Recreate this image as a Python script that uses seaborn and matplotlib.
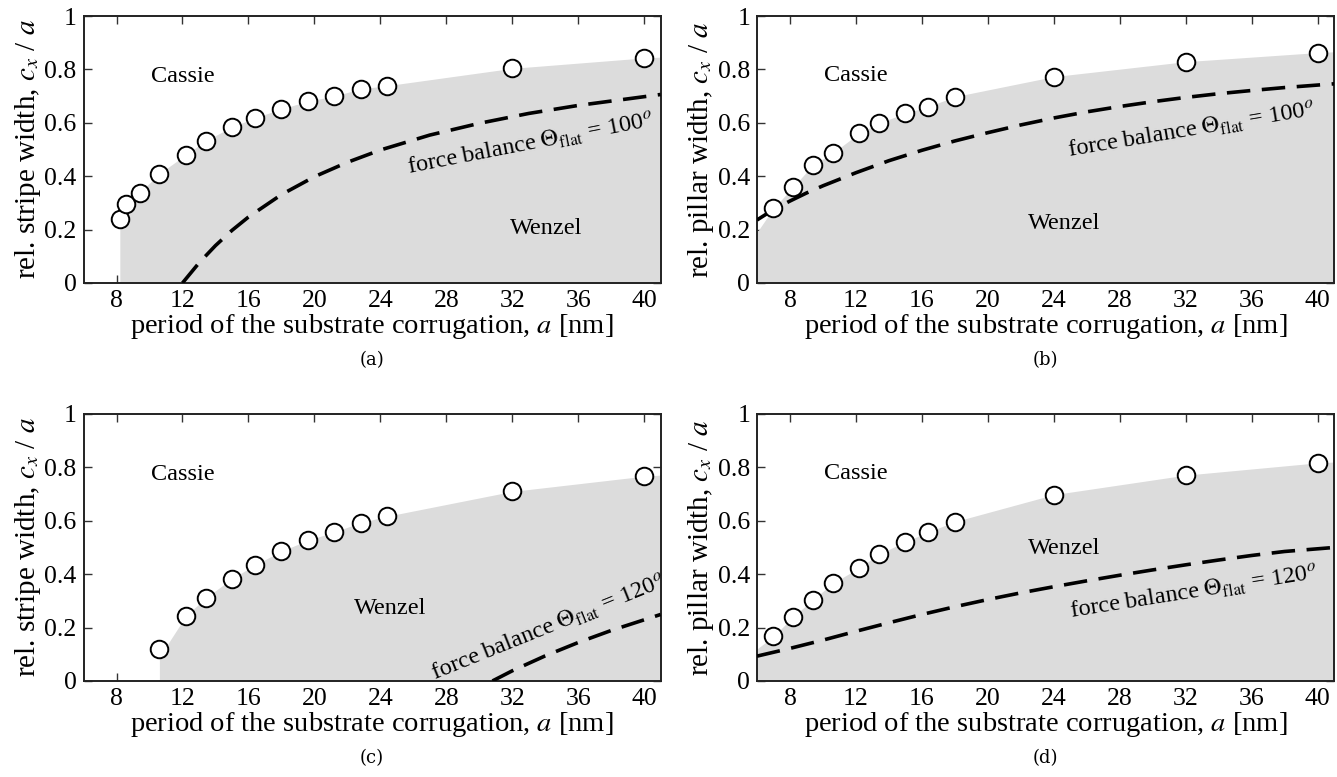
import numpy as np
import pandas as pd
import matplotlib
matplotlib.use('Agg')
import matplotlib.pyplot as plt
import seaborn as sns

# ---------------- datos ----------------
# (a) franjas, Theta_flat = 100
a_x = [8.2, 8.6, 9.4, 10.6, 12.2, 13.4, 15.0, 16.4, 18.0, 19.6, 21.2, 22.8, 24.4, 32.0, 40.0]
a_y = [0.238, 0.297, 0.338, 0.41, 0.48, 0.533, 0.584, 0.619, 0.652, 0.681, 0.70, 0.727, 0.739, 0.804, 0.843]
a_fb_x = [12, 13, 14, 15, 16, 18, 20, 22, 24, 27, 30, 33, 36, 41]
a_fb_y = [0.0, 0.075, 0.14, 0.197, 0.247, 0.331, 0.398, 0.452, 0.498, 0.554, 0.598, 0.635, 0.665, 0.706]

# (b) pilares, Theta_flat = 100
b_x = [7.0, 8.2, 9.4, 10.6, 12.2, 13.4, 15.0, 16.4, 18.0, 24.0, 32.0, 40.0]
b_y = [0.28, 0.36, 0.443, 0.487, 0.561, 0.599, 0.636, 0.661, 0.698, 0.773, 0.829, 0.863]
b_fb_x = [6, 7, 8, 9, 10, 12, 14, 16, 18, 20, 22, 24, 26, 28, 30, 32, 34, 36, 38, 41]
b_fb_y = [0.236, 0.275, 0.307, 0.337, 0.364, 0.413, 0.458, 0.497, 0.532, 0.563, 0.592, 0.618, 0.641, 0.661,
          0.679, 0.695, 0.709, 0.721, 0.732, 0.746]

# (c) franjas, Theta_flat = 120
c_x = [10.6, 12.2, 13.4, 15.0, 16.4, 18.0, 19.6, 21.2, 22.8, 24.4, 32.0, 40.0]
c_y = [0.118, 0.243, 0.311, 0.383, 0.435, 0.486, 0.527, 0.558, 0.593, 0.617, 0.71, 0.767]
c_fb_x = [30.8, 32, 34, 36, 38, 41]
c_fb_y = [0.0, 0.038, 0.094, 0.144, 0.189, 0.249]

# (d) pilares, Theta_flat = 120
d_x = [7.0, 8.2, 9.4, 10.6, 12.2, 13.4, 15.0, 16.4, 18.0, 24.0, 32.0, 40.0]
d_y = [0.167, 0.241, 0.305, 0.366, 0.424, 0.475, 0.522, 0.558, 0.597, 0.698, 0.771, 0.817]
d_fb_x = [6, 8, 10, 12, 14, 16, 18, 20, 22, 24, 26, 28, 30, 32, 34, 36, 38, 41]
d_fb_y = [0.093, 0.122, 0.153, 0.186, 0.218, 0.249, 0.278, 0.305, 0.33, 0.353, 0.375, 0.396, 0.416,
          0.435, 0.453, 0.47, 0.485, 0.50]

# borde de la region Wenzel (sombreado) en los extremos
fill_start = {'a': (8.2, 0.20), 'b': (6.0, 0.19), 'c': (10.6, 0.09), 'd': (6.0, 0.12)}
fill_end = {'a': 0.846, 'b': 0.866, 'c': 0.771, 'd': 0.82}

x_ticks = [8, 12, 16, 20, 24, 28, 32, 36, 40]
y_ticks = [0, 0.2, 0.4, 0.6, 0.8, 1]
y_ticklabels = ['0', '0.2', '0.4', '0.6', '0.8', '1']

sns.set_theme(style='ticks')
plt.rcParams['font.family'] = ['Liberation Serif', 'DejaVu Serif']
plt.rcParams['mathtext.fontset'] = 'stix'
plt.rcParams['text.color'] = 'black'
plt.rcParams['axes.labelcolor'] = 'black'
plt.rcParams['xtick.labelcolor'] = 'black'
plt.rcParams['ytick.labelcolor'] = 'black'

fig = plt.figure(figsize=(13.37, 7.77), dpi=100)

paneles = [
    ('a', a_x, a_y, a_fb_x, a_fb_y, 'stripe', '100', [0.0625, 0.6358, 0.4316, 0.3436],
     (12.0, 0.775), (34.05, 0.205), (33.1, 0.52), 11),
    ('b', b_x, b_y, b_fb_x, b_fb_y, 'pillar', '100', [0.5662, 0.6358, 0.4316, 0.3436],
     (12.0, 0.779), (24.65, 0.224), (32.35, 0.572), 9.5),
    ('c', c_x, c_y, c_fb_x, c_fb_y, 'stripe', '120', [0.0625, 0.1236, 0.4316, 0.3436],
     (12.0, 0.772), (24.6, 0.272), (34.2, 0.2), 22),
    ('d', d_x, d_y, d_fb_x, d_fb_y, 'pillar', '120', [0.5662, 0.1236, 0.4316, 0.3436],
     (12.0, 0.778), (24.65, 0.497), (32.46, 0.33), 9),
]

gris = '#dcdcdc'

for key, px, py, fx, fy, kind, theta, rect, cassie_pos, wenzel_pos, fb_pos, ang in paneles:
    ax = fig.add_axes(rect)

    # region Wenzel sombreada
    x0, y0 = fill_start[key]
    bx = [x0] + [x for x in px if x > x0] + [41]
    by = [y0] + [y for x, y in zip(px, py) if x > x0] + [fill_end[key]]
    ax.fill_between(bx, 0, by, color=gris, linewidth=0, zorder=1)

    # curva de balance de fuerzas
    sns.lineplot(x=fx, y=fy, ax=ax, color='black', linewidth=2.6, dashes=(6.5, 3.2),
                 zorder=3, estimator=None, sort=False)

    # simulaciones
    df = pd.DataFrame({'a': px, 'c': py})
    sns.scatterplot(data=df, x='a', y='c', ax=ax, s=160, facecolor='white',
                    edgecolor='black', linewidth=1.4, zorder=4, clip_on=False)

    ax.set_xlim(6, 41)
    ax.set_ylim(0, 1)
    ax.set_xticks(x_ticks)
    ax.set_yticks(y_ticks)
    ax.set_yticklabels(y_ticklabels)
    ax.tick_params(direction='in', top=True, right=True, length=6, width=1,
                   labelsize=18.5, pad=5, color='#333333')
    for sp in ax.spines.values():
        sp.set_linewidth(1.4)
        sp.set_color('#222222')

    ax.set_xlabel(r'period of the substrate corrugation, $a$ [nm]', fontsize=20.5, labelpad=0)
    ax.set_ylabel(r'rel. %s width, $c_x$ / $a$' % kind, fontsize=21, labelpad=1)

    ax.text(*cassie_pos, 'Cassie', fontsize=17.5, ha='center', va='center', zorder=5)
    ax.text(*wenzel_pos, 'Wenzel', fontsize=17.5, ha='center', va='center', zorder=5)
    ax.text(*fb_pos, r'force balance $\Theta_{\rm flat}$ = %s$^o$' % theta, fontsize=17.5,
            ha='center', va='center', rotation=ang, rotation_mode='anchor', zorder=5)

    ax.text(0.5, -0.255, '(%s)' % key, transform=ax.transAxes, ha='center', va='top',
            fontsize=13, family=['DejaVu Serif'])

fig.savefig('out.png', dpi=100)
